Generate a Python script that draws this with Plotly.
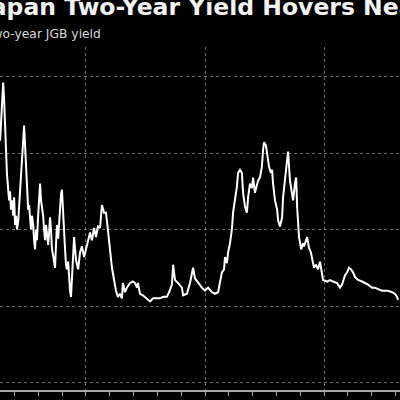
import plotly.graph_objects as go

years = [1996.39, 1996.43, 1996.47, 1996.52, 1996.56, 1996.60, 1996.64, 1996.68, 1996.73, 1996.77,
         1996.81, 1996.85, 1996.89, 1996.94, 1996.98, 1997.02, 1997.06, 1997.10, 1997.15, 1997.19,
         1997.23, 1997.27, 1997.31, 1997.36, 1997.40, 1997.44, 1997.48, 1997.52, 1997.57, 1997.61,
         1997.65, 1997.69, 1997.73, 1997.78, 1997.82, 1997.86, 1997.90, 1997.94, 1997.99, 1998.03,
         1998.07, 1998.11, 1998.15, 1998.20, 1998.24, 1998.28, 1998.32, 1998.36, 1998.41, 1998.45,
         1998.49, 1998.53, 1998.57, 1998.62, 1998.66, 1998.70, 1998.74, 1998.78, 1998.83, 1998.87,
         1998.91, 1998.95, 1998.99, 1999.04, 1999.08, 1999.12, 1999.16, 1999.20, 1999.25, 1999.29,
         1999.33, 1999.37, 1999.41, 1999.50, 1999.58, 1999.67, 1999.75, 1999.83, 1999.92, 2000.00,
         2000.08, 2000.17, 2000.25, 2000.34, 2000.42, 2000.50, 2000.59, 2000.67, 2000.76, 2000.84,
         2000.92, 2001.01, 2001.09, 2001.18, 2001.26, 2001.34, 2001.43, 2001.51, 2001.55, 2001.64,
         2001.72, 2001.85, 2001.97, 2002.06, 2002.14, 2002.18, 2002.27, 2002.39, 2002.56, 2002.69,
         2002.82, 2002.98, 2003.11, 2003.24, 2003.40, 2003.49, 2003.61, 2003.66, 2003.74, 2003.87,
         2004.03, 2004.08, 2004.24, 2004.37, 2004.50, 2004.58, 2004.71, 2004.87, 2005.00, 2005.13,
         2005.29, 2005.42, 2005.55, 2005.63, 2005.71, 2005.80, 2005.84, 2005.92, 2005.97, 2006.05,
         2006.13, 2006.18, 2006.26, 2006.34, 2006.39, 2006.47, 2006.55, 2006.60, 2006.68, 2006.76,
         2006.81, 2006.89, 2006.97, 2007.02, 2007.10, 2007.18, 2007.23, 2007.31, 2007.39, 2007.44,
         2007.48, 2007.56, 2007.61, 2007.69, 2007.77, 2007.82, 2007.86, 2007.94, 2008.03, 2008.07,
         2008.15, 2008.24, 2008.28, 2008.36, 2008.45, 2008.49, 2008.57, 2008.66, 2008.70, 2008.78,
         2008.83, 2008.87, 2008.91, 2008.95, 2009.04, 2009.12, 2009.16, 2009.24, 2009.29, 2009.37,
         2009.45, 2009.54, 2009.58, 2009.66, 2009.75, 2009.83, 2009.92, 2009.96, 2010.13, 2010.25,
         2010.38, 2010.55, 2010.67, 2010.76, 2010.80, 2010.88, 2010.97, 2011.05, 2011.13, 2011.22,
         2011.30, 2011.43, 2011.60, 2011.72, 2011.85, 2012.02, 2012.14, 2012.27, 2012.44, 2012.56,
         2012.69, 2012.86, 2012.98, 2013.07, 2013.11]

yield_pct = [1.08, 1.18, 1.28, 1.46, 1.35, 1.23, 1.02, 0.86, 0.73, 0.69,
             0.75, 0.63, 0.69, 0.59, 0.71, 0.53, 0.59, 0.50, 0.55, 0.66,
             0.76, 0.86, 0.95, 1.08, 1.18, 1.05, 0.89, 0.73, 0.63, 0.66,
             0.56, 0.50, 0.59, 0.53, 0.43, 0.37, 0.50, 0.43, 0.59, 0.73,
             0.80, 0.69, 0.65, 0.59, 0.50, 0.43, 0.53, 0.46, 0.40, 0.48,
             0.58, 0.50, 0.37, 0.33, 0.29, 0.25, 0.40, 0.53, 0.44, 0.56,
             0.69, 0.73, 0.76, 0.59, 0.43, 0.37, 0.27, 0.24, 0.29, 0.17,
             0.10, 0.06, 0.17, 0.45, 0.30, 0.24, 0.35, 0.39, 0.32, 0.37,
             0.41, 0.48, 0.43, 0.51, 0.45, 0.52, 0.51, 0.66, 0.61, 0.61,
             0.50, 0.37, 0.25, 0.17, 0.10, 0.06, 0.08, 0.05, 0.15, 0.09,
             0.12, 0.15, 0.16, 0.15, 0.12, 0.15, 0.08, 0.07, 0.05, 0.03,
             0.05, 0.05, 0.05, 0.06, 0.06, 0.09, 0.14, 0.27, 0.17, 0.15,
             0.12, 0.07, 0.08, 0.15, 0.25, 0.18, 0.15, 0.12, 0.10, 0.12,
             0.09, 0.08, 0.09, 0.16, 0.22, 0.24, 0.32, 0.28, 0.35, 0.41,
             0.50, 0.61, 0.69, 0.78, 0.87, 0.89, 0.87, 0.74, 0.65, 0.61,
             0.71, 0.80, 0.77, 0.84, 0.74, 0.80, 0.82, 0.84, 0.91, 1.02,
             1.07, 1.05, 0.99, 0.91, 0.87, 0.89, 0.80, 0.69, 0.63, 0.56,
             0.52, 0.58, 0.71, 0.82, 0.95, 1.01, 0.82, 0.74, 0.69, 0.80,
             0.84, 0.65, 0.54, 0.45, 0.37, 0.41, 0.39, 0.42, 0.45, 0.38,
             0.35, 0.28, 0.25, 0.27, 0.24, 0.29, 0.22, 0.17, 0.16, 0.17,
             0.16, 0.15, 0.12, 0.14, 0.16, 0.20, 0.22, 0.25, 0.24, 0.22,
             0.19, 0.17, 0.16, 0.15, 0.14, 0.12, 0.12, 0.11, 0.10, 0.10,
             0.10, 0.09, 0.08, 0.06, 0.04]

title_text = "Japan Two-Year Yield Hovers Near Record Low"
subtitle_text = "Two-year JGB yield"

fig = go.Figure()
fig.add_trace(go.Scatter(x=years, y=yield_pct, mode="lines",
                         line=dict(color="#ffffff", width=2), hoverinfo="skip"))

TOP, BOTTOM = 47, 10
plot_h = 400 - TOP - BOTTOM

def py(pix):
    return (400 - BOTTOM - pix) / plot_h

fig.update_layout(
    width=400, height=400,
    paper_bgcolor="#000000", plot_bgcolor="#000000",
    margin=dict(l=0, r=0, t=TOP, b=BOTTOM),
    showlegend=False,
    xaxis=dict(range=[1996.387, 2013.193], tick0=2000, dtick=5,
               showgrid=True, gridcolor="#6a6a6a", griddash="dot", gridwidth=1,
               showline=True, linecolor="#a8a8a8", linewidth=1.5,
               ticks="outside", ticklen=4, tickcolor="#a8a8a8", tickwidth=1,
               minor=dict(dtick=1, tick0=2000, ticks="outside", ticklen=4,
                          tickcolor="#a8a8a8", tickwidth=1, showgrid=False),
               showticklabels=False, zeroline=False),
    yaxis=dict(range=[-0.549, 1.693], tick0=0, dtick=0.5,
               showgrid=True, gridcolor="#6a6a6a", griddash="dot", gridwidth=1,
               showticklabels=False, zeroline=False, showline=False, ticks=""),
    annotations=[
        dict(text="<b>" + title_text + "</b>", xref="paper", yref="paper",
             x=-22 / 400, y=py(7), xanchor="left", yanchor="middle", showarrow=False,
             font=dict(family="DejaVu Sans", size=23.5, color="#f2f2f2")),
        dict(text=subtitle_text, xref="paper", yref="paper",
             x=-16 / 400, y=py(34), xanchor="left", yanchor="middle", showarrow=False,
             font=dict(family="DejaVu Sans", size=12.3, color="#d8d8d8")),
    ],
)

fig.write_html("out.html")
